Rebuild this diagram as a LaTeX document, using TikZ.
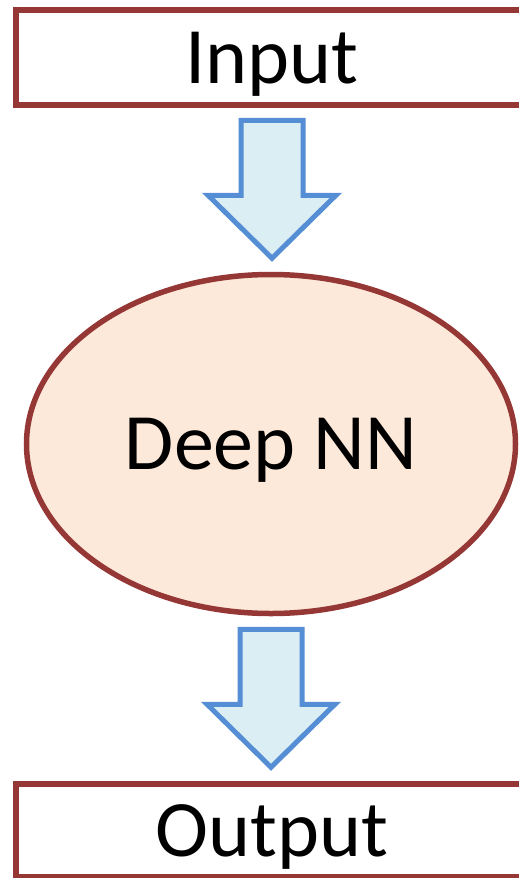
\documentclass[tikz,border=0pt]{standalone}
\usepackage{fontspec}
\setmainfont{Carlito}
\usetikzlibrary{shapes.geometric}
\usetikzlibrary{calc}
\definecolor{boxred}{HTML}{953735}
\definecolor{nnfill}{HTML}{FDE9D9}
\definecolor{arrowblue}{HTML}{558ED5}
\definecolor{arrowfill}{HTML}{DBEEF4}

\begin{document}
\begin{tikzpicture}[x=1pt, y=-1pt,
  bigtext/.style={font=\fontsize{80}{82}\selectfont, text height=51pt, text depth=0pt, inner sep=0pt},
  iobox/.style={bigtext, rectangle, draw=boxred, line width=5.5pt, minimum width=512pt, minimum height=95pt},
  nnbox/.style={bigtext, ellipse, draw=boxred, fill=nnfill, line width=5.5pt, minimum width=489pt, minimum height=339pt},
  blockarrow/.style={draw=arrowblue, fill=arrowfill, line width=5pt, line join=miter}]
  \useasboundingbox (0,0) rectangle (519,878);
  \node[iobox] (input) at (272,57.5) {Input};
  \node[nnbox] (nn) at (271,444) {Deep NN};
  \node[iobox, minimum height=93pt] (output) at (272,830.5) {Output};
  % block arrows below input and below the net
  \coordinate (top1) at ($(input.south)+(0,12.5)$);
  \coordinate (top2) at ($(nn.south)+(0,13)$);
  \foreach \t in {top1,top2}
    \draw[blockarrow] (\t) ++(-31,0) -- ++(62,0) -- ++(0,75) -- ++(33,0)
      -- ++(-64,63) -- ++(-64,-63) -- ++(33,0) -- cycle;
\end{tikzpicture}
\end{document}
